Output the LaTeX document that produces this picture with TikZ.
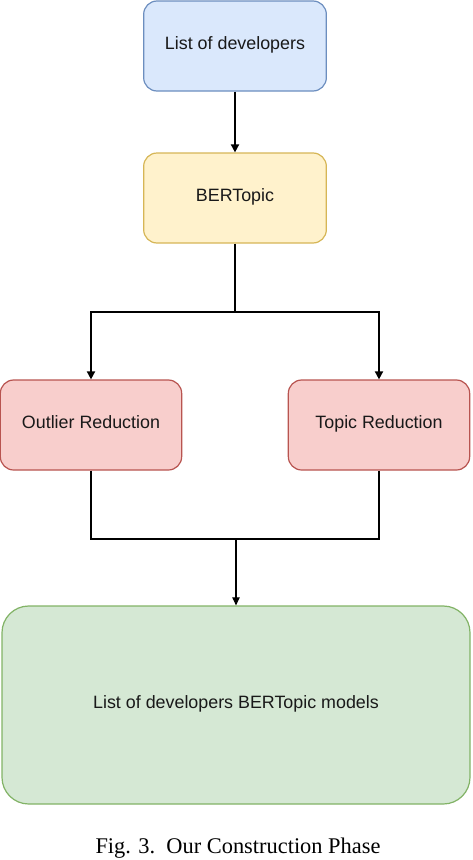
\documentclass[tikz,border=0pt]{standalone}
\usepackage{fontspec}
\setmainfont{Liberation Serif}
\setsansfont{Liberation Sans}
\usetikzlibrary{arrows.meta}

\definecolor{blueF}{HTML}{DAE8FC}
\definecolor{blueD}{HTML}{6C8EBF}
\definecolor{yellowF}{HTML}{FFF2CC}
\definecolor{yellowD}{HTML}{D6B656}
\definecolor{redF}{HTML}{F8CECC}
\definecolor{redD}{HTML}{B85450}
\definecolor{greenF}{HTML}{D5E8D4}
\definecolor{greenD}{HTML}{82B366}

\begin{document}
\begin{tikzpicture}[x=0.75pt,y=-0.75pt,box/.style={shape=rectangle,rounded corners=10pt,line width=0.9pt,minimum width=137pt,minimum height=67.5pt,text height=1.5ex,text depth=0.3ex,font=\sffamily\fontsize{13.4}{16}\selectfont,text=black!90},boxB/.style={box,fill=blueF,draw=blueD},boxY/.style={box,fill=yellowF,draw=yellowD},boxR/.style={box,fill=redF,draw=redD,minimum width=136pt},boxG/.style={box,fill=greenF,draw=greenD,minimum width=351pt,minimum height=148.5pt,rounded corners=20pt},arr/.style={line width=1.3pt,-{Triangle[width=6pt,length=6pt]}},arrT/.style={line width=0.8pt,-{Triangle[width=5.5pt,length=6pt]}}]
\def\cx{235};
\def\dxr{144};
\def\ysplit{312};
\def\yjoin{539};

\useasboundingbox (0,0) rectangle (472,860);

\node[boxB] (devs) at (\cx,46) {List of developers};
\node[boxY] (bert) at (\cx,198) {BERTopic};

\node[boxR] (outlier) at (\cx-\dxr,425) {Outlier Reduction};
\node[boxR] (topic) at (\cx+\dxr,425) {Topic Reduction};

\node[boxG] (models) at (236,705) {List of developers BERTopic models};

\coordinate (split) at (\cx,\ysplit);
\coordinate (join) at (236,\yjoin);

\draw[arr] (devs.south) -- (bert.north);
\draw[line width=1.3pt] (bert.south) -- (split);
\draw[arr] (split) -| (outlier.north);
\draw[arr] (split) -| (topic.north);
\draw[line width=1.3pt] (outlier.south) |- (join);
\draw[line width=1.3pt] (topic.south) |- (join);
\draw[arrT] (join) -- (models.north);

\node[font=\rmfamily\fontsize{16.8}{20}\selectfont] (caption) at (238,848) {Fig. 3.\ \ Our Construction Phase};
\end{tikzpicture}
\end{document}
